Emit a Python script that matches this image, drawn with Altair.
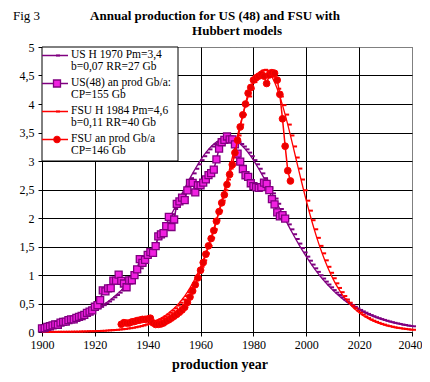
import altair as alt
import pandas as pd

# ---------------- data ----------------
years_hub = list(range(1900, 2041))
us_hubbert = [
    0.100, 0.107, 0.114, 0.123, 0.131, 0.141, 0.151, 0.161, 0.173, 0.185,
    0.198, 0.212, 0.227, 0.243, 0.259, 0.277, 0.297, 0.317, 0.339, 0.362,
    0.387, 0.413, 0.441, 0.471, 0.502, 0.536, 0.571, 0.609, 0.649, 0.691,
    0.735, 0.784, 0.833, 0.884, 0.938, 0.995, 1.055, 1.117, 1.183, 1.251,
    1.322, 1.396, 1.472, 1.551, 1.632, 1.715, 1.801, 1.888, 1.977, 2.067,
    2.158, 2.250, 2.341, 2.432, 2.523, 2.612, 2.699, 2.783, 2.864, 2.942,
    3.015, 3.084, 3.147, 3.204, 3.254, 3.298, 3.334, 3.363, 3.383, 3.396,
    3.400,
    3.396, 3.383, 3.363, 3.334, 3.298, 3.254, 3.204, 3.147, 3.084, 3.015,
    2.942, 2.864, 2.783, 2.699, 2.612, 2.523, 2.432, 2.341, 2.250, 2.158,
    2.067, 1.977, 1.888, 1.801, 1.715, 1.632, 1.551, 1.472, 1.396, 1.322,
    1.251, 1.183, 1.117, 1.055, 0.995, 0.938, 0.884, 0.833, 0.784, 0.735,
    0.691, 0.649, 0.609, 0.571, 0.536, 0.502, 0.471, 0.441, 0.413, 0.387,
    0.362, 0.339, 0.317, 0.297, 0.277, 0.259, 0.243, 0.227, 0.212, 0.198,
    0.185, 0.173, 0.161, 0.151, 0.141, 0.131, 0.123, 0.114, 0.107, 0.100,
]
fsu_hubbert = [
    0.002, 0.002, 0.002, 0.003, 0.003, 0.003, 0.004, 0.004, 0.004, 0.005,
    0.005, 0.006, 0.007, 0.007, 0.008, 0.009, 0.010, 0.012, 0.013, 0.014,
    0.016, 0.018, 0.020, 0.022, 0.025, 0.028, 0.031, 0.035, 0.039, 0.043,
    0.048, 0.054, 0.060, 0.067, 0.074, 0.083, 0.093, 0.103, 0.115, 0.129,
    0.143, 0.160, 0.178, 0.198, 0.220, 0.245, 0.273, 0.304, 0.338, 0.375,
    0.417, 0.463, 0.514, 0.570, 0.631, 0.699, 0.773, 0.854, 0.943, 1.039,
    1.144, 1.257, 1.380, 1.511, 1.652, 1.802, 1.961, 2.129, 2.304, 2.487,
    2.675, 2.867, 3.061, 3.255, 3.448, 3.639, 3.814, 3.980, 4.132, 4.268,
    4.384, 4.478, 4.545, 4.586, 4.600, 4.586, 4.545, 4.478, 4.384, 4.268,
    4.132, 3.980, 3.814, 3.639, 3.448, 3.255, 3.061, 2.867, 2.675, 2.487,
    2.304, 2.129, 1.961, 1.802, 1.652, 1.511, 1.380, 1.257, 1.144, 1.039,
    0.943, 0.854, 0.773, 0.699, 0.631, 0.570, 0.514, 0.463, 0.417, 0.375,
    0.338, 0.304, 0.273, 0.245, 0.220, 0.198, 0.178, 0.160, 0.143, 0.129,
    0.115, 0.103, 0.093, 0.083, 0.074, 0.067, 0.060, 0.054, 0.048, 0.043,
    0.039,
]

us_years = list(range(1900, 1993))
us_prod = [
    0.064, 0.069, 0.089, 0.101, 0.117, 0.135, 0.127, 0.166, 0.179, 0.183,
    0.210, 0.220, 0.223, 0.248, 0.266, 0.281, 0.301, 0.335, 0.356, 0.378,
    0.443, 0.472, 0.558, 0.732, 0.714, 0.764, 0.771, 0.901, 0.902, 1.007,
    0.898, 0.851, 0.785, 0.906, 0.908, 0.997, 1.100, 1.279, 1.214, 1.265,
    1.353, 1.402, 1.387, 1.506, 1.678, 1.714, 1.734, 1.857, 2.020, 1.842,
    1.974, 2.248, 2.290, 2.357, 2.315, 2.484, 2.617, 2.617, 2.449, 2.575,
    2.575, 2.622, 2.676, 2.753, 2.787, 2.849, 3.028, 3.216, 3.329, 3.372,
    3.430, 3.380, 3.380, 3.290, 3.130, 2.990, 2.860, 2.750, 2.720, 2.610,
    2.560, 2.540, 2.530, 2.540, 2.620, 2.600, 2.490, 2.330, 2.240, 2.100,
    2.030, 2.050, 1.990,
]

fsu_years = list(range(1930, 1995))
fsu_prod = [
    0.136, 0.164, 0.157, 0.158, 0.177, 0.185, 0.201, 0.209, 0.221, 0.222,
    0.228, 0.242, 0.161, 0.132, 0.134, 0.142, 0.159, 0.191, 0.214, 0.245,
    0.278, 0.310, 0.347, 0.387, 0.435, 0.519, 0.614, 0.720, 0.830, 0.950,
    1.084, 1.218, 1.365, 1.511, 1.639, 1.780, 1.943, 2.112, 2.266, 2.407,
    2.587, 2.764, 2.935, 3.145, 3.364, 3.598, 3.810, 4.000, 4.190, 4.290,
    4.420, 4.460, 4.490, 4.520, 4.490, 4.360, 4.510, 4.550, 4.540, 4.420,
    4.170, 3.740, 3.260, 2.830, 2.650,
]

x_ticks = [1900, 1920, 1940, 1960, 1980, 2000, 2020, 2040]
y_ticks = [0, 0.5, 1, 1.5, 2, 2.5, 3, 3.5, 4, 4.5, 5]

legend_lines = [
    ["US H 1970 Pm=3,4", "b=0,07 RR=27 Gb"],
    ["US(48) an prod Gb/a:", "CP=155 Gb"],
    ["FSU H 1984 Pm=4,6", "b=0,11 RR=40 Gb"],
    ["FSU an prod Gb/a", "CP=146 Gb"],
]
title_lines = ["Annual production for US (48) and FSU with", "Hubbert models"]
fig_label = "Fig 3"
x_title = "production year"

# ---------------- styling ----------------
FONT = "Liberation Serif"
PURPLE = "#800080"
RED = "#ff0000"
SQ_FILL = "#f020e0"
CIRC_FILL = "#e80000"
DASH = "M0,-0.25H1V0.25H0Z"

df_us_h = pd.DataFrame({"year": years_hub, "v": us_hubbert})
df_fsu_h = pd.DataFrame({"year": years_hub, "v": fsu_hubbert})
df_us = pd.DataFrame({"year": us_years, "v": us_prod})
df_fsu = pd.DataFrame({"year": fsu_years, "v": fsu_prod})

X = alt.X(
    "year:Q",
    scale=alt.Scale(domain=[1900, 2040], nice=False, zero=False),
    axis=alt.Axis(
        values=x_ticks, format="d", title=None, grid=True,
        gridColor={"condition": {"test": "datum.value >= 2040", "value": "transparent"}, "value": "black"},
        labelOffset={"condition": {"test": "datum.value >= 2040", "value": -2}, "value": 0},
        tickSize=4, labelPadding=3, labelFlush=False, labelFontSize=12,
    ),
)
Y = alt.Y(
    "v:Q",
    scale=alt.Scale(domain=[0, 5], nice=False),
    axis=alt.Axis(
        values=y_ticks, title=None, grid=True,
        labelExpr="replace(format(datum.value, '~g'), '.', ',')",
        gridColor={"condition": {"test": "datum.value >= 5", "value": "transparent"}, "value": "black"},
        tickSize=4, labelPadding=4, labelFontSize=12,
    ),
)

layers = []
# Hubbert curves
layers.append(alt.Chart(df_us_h).mark_line(color=PURPLE, strokeWidth=1.3).encode(x=X, y=Y))
layers.append(alt.Chart(df_us_h).mark_point(shape=DASH, size=64, filled=True, color=PURPLE, opacity=1).encode(x=X, y=Y))
layers.append(alt.Chart(df_fsu_h).mark_line(color=RED, strokeWidth=1.3).encode(x=X, y=Y))
layers.append(alt.Chart(df_fsu_h).mark_point(shape=DASH, size=64, filled=True, color=RED, opacity=1).encode(x=X, y=Y))
# Data series
layers.append(alt.Chart(df_us).mark_line(color=PURPLE, strokeWidth=1.5).encode(x=X, y=Y))
layers.append(alt.Chart(df_us).mark_point(shape="square", size=49, filled=True, fill=SQ_FILL,
                                          stroke=PURPLE, strokeWidth=1.3, opacity=1).encode(x=X, y=Y))
layers.append(alt.Chart(df_fsu).mark_line(color=RED, strokeWidth=1.5).encode(x=X, y=Y))
layers.append(alt.Chart(df_fsu).mark_point(shape="circle", size=45, filled=True, fill=CIRC_FILL,
                                           stroke=RED, strokeWidth=1, opacity=1).encode(x=X, y=Y))

one = alt.Data(values=[{}])

# Legend box
layers.append(alt.Chart(one).mark_rect(fill="white", stroke="black", strokeWidth=1).encode(
    x=alt.value(0), x2=alt.value(136), y=alt.value(0), y2=alt.value(114)))

sym_y = [8.5, 36.5, 64.5, 92.5]
sym_col = [PURPLE, PURPLE, RED, RED]
text_y = [[7.5, 19.5], [35.5, 47.5], [63.5, 75.5], [91.5, 103.5]]
for i in range(4):
    layers.append(alt.Chart(one).mark_rule(color=sym_col[i], strokeWidth=1.5).encode(
        x=alt.value(0), x2=alt.value(26), y=alt.value(sym_y[i])))
    if i in (0, 2):
        layers.append(alt.Chart(one).mark_point(shape=DASH, size=64, filled=True, color=sym_col[i], opacity=1).encode(
            x=alt.value(14), y=alt.value(sym_y[i])))
    elif i == 1:
        layers.append(alt.Chart(one).mark_point(shape="square", size=49, filled=True, fill=SQ_FILL,
                                                stroke=PURPLE, strokeWidth=1.3, opacity=1).encode(
            x=alt.value(15), y=alt.value(sym_y[i])))
    else:
        layers.append(alt.Chart(one).mark_point(shape="circle", size=45, filled=True, fill=CIRC_FILL,
                                                stroke=RED, strokeWidth=1, opacity=1).encode(
            x=alt.value(15), y=alt.value(sym_y[i])))
    for j in range(2):
        layers.append(alt.Chart(one).mark_text(font=FONT, fontSize=11.5, align="left", baseline="middle",
                                               color="black").encode(
            x=alt.value(29), y=alt.value(text_y[i][j]), text=alt.value(legend_lines[i][j])))

# Titles
layers.append(alt.Chart(one).mark_text(font=FONT, fontSize=13, align="left", baseline="alphabetic",
                                       color="black").encode(
    x=alt.value(-29), y=alt.value(-27), text=alt.value(fig_label)))
layers.append(alt.Chart(one).mark_text(font=FONT, fontSize=13, fontWeight="bold", align="center",
                                       baseline="alphabetic", color="black").encode(
    x=alt.value(173), y=alt.value(-27), text=alt.value(title_lines[0])))
layers.append(alt.Chart(one).mark_text(font=FONT, fontSize=13, fontWeight="bold", align="center",
                                       baseline="alphabetic", color="black").encode(
    x=alt.value(195), y=alt.value(-12.5), text=alt.value(title_lines[1])))
layers.append(alt.Chart(one).mark_text(font=FONT, fontSize=14, fontWeight="bold", align="center",
                                       baseline="alphabetic", color="black").encode(
    x=alt.value(178), y=alt.value(322), text=alt.value(x_title)))

chart = alt.layer(*layers).properties(
    width=370, height=285,
    autosize=alt.AutoSizeParams(type="none"),
    padding={"left": 34, "top": 39, "right": 10, "bottom": 42},
    background="white",
).configure_view(
    stroke="black", strokeDash=[1, 1], strokeWidth=1,
).configure_axis(
    labelFont=FONT, labelColor="black",
    domainColor="black", domainWidth=1, tickColor="black", tickWidth=1,
    gridWidth=1, gridOpacity=1,
)

chart.save("out.html", embed_options={"renderer": "svg", "actions": False})
